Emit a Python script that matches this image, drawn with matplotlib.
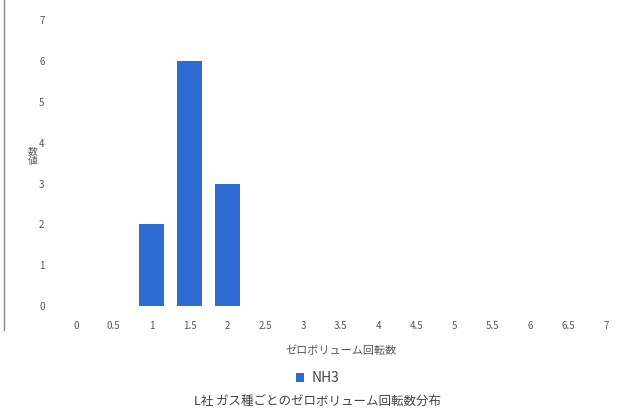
import matplotlib.pyplot as plt

plt.rcParams['font.family'] = ['Noto Sans CJK JP', 'DejaVu Sans']

# rotation counts (categories) and frequencies for NH3
categories = ['0', '0.5', '1', '1.5', '2', '2.5', '3', '3.5', '4', '4.5', '5', '5.5', '6', '6.5', '7']
nh3_counts = [0, 0, 2, 6, 3, 0, 0, 0, 0, 0, 0, 0, 0, 0, 0]
y_ticks = [0, 1, 2, 3, 4, 5, 6, 7]

bar_color = '#2e6bd2'
text_color = '#555555'

fig = plt.figure(figsize=(6.35, 4.12), dpi=100)
ax = fig.add_axes([0.0898, 0.257, 0.894, 0.694])

x = range(len(categories))
ax.bar(x, nh3_counts, width=0.66, color=bar_color, label='NH3')

ax.set_xlim(-0.5, len(categories) - 0.5)
ax.set_ylim(0, 7)
ax.set_xticks(list(x))
ax.set_xticklabels(categories)
ax.set_yticks(y_ticks)
ax.tick_params(axis='both', length=0, labelsize=7, labelcolor=text_color)
ax.tick_params(axis='x', pad=11)
ax.tick_params(axis='y', pad=9)
for s in ax.spines.values():
    s.set_visible(False)

ax.set_xlabel('ゼロボリューム回転数', fontsize=8, color=text_color, labelpad=10)
# vertical (stacked) axis title
fig.text(33 / 635, 1 - 156 / 412, '数\n値', fontsize=7, color=text_color,
         ha='center', va='center', linespacing=1.1)

fig.legend(loc='center', bbox_to_anchor=(0.5, 1 - 378 / 412), frameon=False,
           fontsize=10, handlelength=0.6, handleheight=0.6, handletextpad=0.5,
           labelcolor='#444444')
fig.text(0.5, 1 - 401 / 412, 'L社 ガス種ごとのゼロボリューム回転数分布',
         fontsize=9, color='#444444', ha='center', va='center')

# chart border on the left
fig.add_artist(plt.Line2D([4 / 635, 4 / 635], [1 - 330 / 412, 1.0],
                          transform=fig.transFigure, color='#888888', lw=1))

fig.savefig('out.png', dpi=100)
